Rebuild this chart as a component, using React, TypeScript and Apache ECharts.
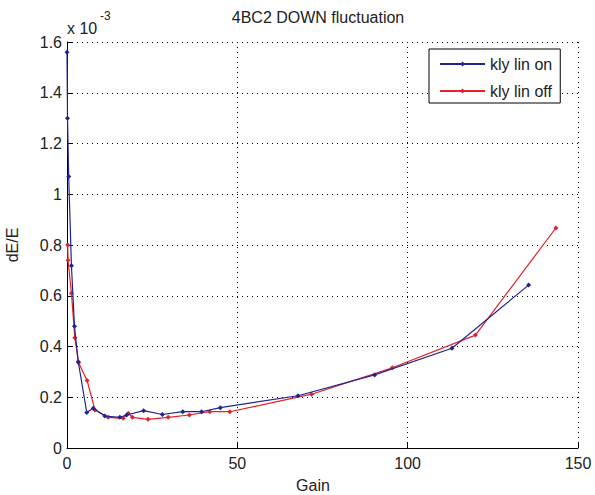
import React, { useEffect, useRef } from "react";
import * as echarts from "echarts";

// values in units of 1e-3
const onGain = [0, 0.15, 0.5, 1.3, 2.2, 3.3, 5.8, 7.7, 11.1, 15.5, 17.5, 22.5, 28, 34, 39.5, 45, 67.8, 90.3, 113, 135.5];
const onDE = [1.56, 1.30, 1.07, 0.718, 0.48, 0.34, 0.14, 0.157, 0.126, 0.121, 0.13, 0.147, 0.132, 0.143, 0.143, 0.159, 0.206, 0.288, 0.393, 0.642];

const offGain = [0.2, 0.3, 1.3, 2.3, 3.4, 5.9, 8.2, 12.1, 16.5, 18, 19.2, 23.8, 29.7, 35.9, 41.9, 47.8, 71.8, 95.5, 119.9, 143.5];
const offDE = [0.80, 0.74, 0.61, 0.434, 0.336, 0.266, 0.15, 0.121, 0.117, 0.137, 0.121, 0.113, 0.121, 0.13, 0.143, 0.143, 0.212, 0.316, 0.445, 0.867];

const seriesNames = ["kly lin on", "kly lin off"];
const xTicks = { min: 0, max: 150, interval: 50 };
const yTicks = { min: 0, max: 1.6, interval: 0.2 };

const FONT = "Liberation Sans, Arial, sans-serif";
const TXT = "#222";

export default function App() {
  const ref = useRef<HTMLDivElement>(null);
  useEffect(() => {
    document.body.style.margin = "0";
    if (!ref.current) return;
    const chart = echarts.init(ref.current, undefined, { renderer: "svg" });
    const gridLine = { show: true, lineStyle: { color: "#000", type: [1, 4] as any, width: 1 } };
    chart.setOption({
      animation: false,
      backgroundColor: "#fff",
      textStyle: { fontFamily: FONT },
      grid: { left: 67, right: 17, top: 42, bottom: 47, containLabel: false },
      xAxis: {
        type: "value",
        min: xTicks.min,
        max: xTicks.max,
        interval: xTicks.interval,
        axisLine: { show: true, onZero: false, lineStyle: { color: "#000", width: 1 } },
        axisTick: { show: true, inside: true, length: 5, lineStyle: { color: "#000" } },
        axisLabel: { color: TXT, fontSize: 16, fontFamily: FONT, margin: 7 },
        splitLine: gridLine,
      },
      yAxis: {
        type: "value",
        min: yTicks.min,
        max: yTicks.max,
        interval: yTicks.interval,
        axisLine: { show: true, onZero: false, lineStyle: { color: "#000", width: 1 } },
        axisTick: { show: true, inside: true, length: 5, lineStyle: { color: "#000" } },
        axisLabel: {
          color: TXT,
          fontSize: 16,
          fontFamily: FONT,
          margin: 5,
          formatter: (v: number) => (Math.abs(v) < 1e-9 ? "0" : String(Math.round(v * 10) / 10)),
        },
        splitLine: gridLine,
      },
      legend: {
        show: true,
        orient: "vertical",
        left: 429,
        top: 49,
        padding: [7, 8, 4, 10],
        itemGap: 11,
        itemWidth: 45,
        itemHeight: 6,
        backgroundColor: "#fff",
        borderColor: "#000",
        borderWidth: 1,
        textStyle: { fontSize: 16, lineHeight: 16, color: TXT, fontFamily: FONT },
        data: seriesNames,
      },
      graphic: [
        {
          type: "text",
          x: 318,
          y: 17,
          style: { text: "4BC2 DOWN fluctuation", fontSize: 16, fontFamily: FONT, fill: TXT, align: "center", verticalAlign: "middle" },
        },
        {
          type: "text",
          x: 67,
          y: 28,
          style: { text: "x 10", fontSize: 16, fontFamily: FONT, fill: TXT, verticalAlign: "middle" },
        },
        {
          type: "text",
          x: 100,
          y: 16,
          style: { text: "-3", fontSize: 12, fontFamily: FONT, fill: TXT, verticalAlign: "middle" },
        },
        {
          type: "text",
          x: 313,
          y: 485,
          style: { text: "Gain", fontSize: 16, fontFamily: FONT, fill: TXT, align: "center", verticalAlign: "middle" },
        },
        {
          type: "text",
          x: 12,
          y: 245,
          rotation: Math.PI / 2,
          style: { text: "dE/E", fontSize: 16, fontFamily: FONT, fill: TXT, align: "center", verticalAlign: "middle" },
        },
      ],
      series: [
        {
          name: seriesNames[0],
          type: "line",
          data: onGain.map((g, i) => [g, onDE[i]]),
          symbol: "diamond",
          symbolSize: 5,
          showAllSymbol: true,
          itemStyle: { color: "#22228f" },
          lineStyle: { color: "#22228f", width: 1.2 },
          z: 3,
        },
        {
          name: seriesNames[1],
          type: "line",
          data: offGain.map((g, i) => [g, offDE[i]]),
          symbol: "diamond",
          symbolSize: 5,
          showAllSymbol: true,
          itemStyle: { color: "#e3212b" },
          lineStyle: { color: "#e3212b", width: 1.2 },
          z: 2,
        },
      ],
    });
    return () => chart.dispose();
  }, []);
  return <div ref={ref} style={{ width: 595, height: 495 }} />;
}
